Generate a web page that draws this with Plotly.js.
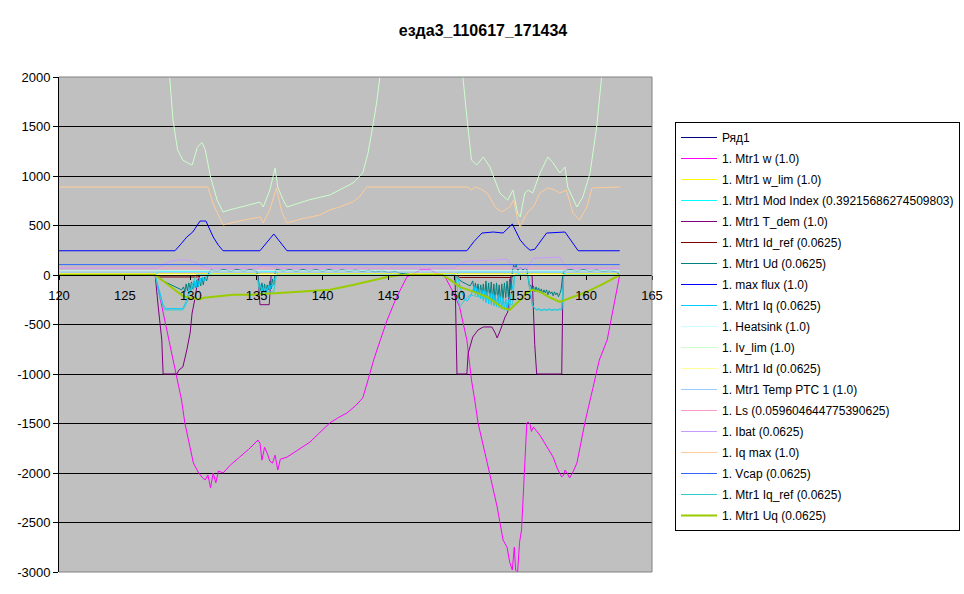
<!DOCTYPE html>
<html><head><meta charset="utf-8">
<script src="https://cdn.plot.ly/plotly-3.0.1.min.js"></script>
<style>html,body{margin:0;padding:0;background:#fff;overflow:hidden;width:964px;height:594px}#chart{width:975px;height:594px}</style>
</head><body><div id="chart"></div><script>
const chartTitle = 'езда3_110617_171434';
const xTicks = [120, 125, 130, 135, 140, 145, 150, 155, 160, 165];
const yTicks = [-3000, -2500, -2000, -1500, -1000, -500, 0, 500, 1000, 1500, 2000];

// Ряд1
const t_r1 = [120, 162.55];
const y_r1 = [0, 0];
// 1. Mtr1 w (1.0)
const t_w = [120, 127.3, 127.8, 128.3, 128.7, 129.0, 129.3, 129.55, 129.9, 130.2,
  130.6, 130.9, 131.1, 131.3, 131.5, 131.7, 131.9, 132.1, 132.45, 133.0,
  133.7, 134.4, 135.1, 135.25, 135.4, 135.6, 135.8, 136.0, 136.2, 136.4,
  136.6, 136.8, 137.3, 138.2, 139.05, 139.8, 140.55, 141.2, 141.85, 142.5,
  143.05, 143.45, 143.9, 144.4, 144.9, 145.6, 146.4, 147.0, 147.4, 148.2,
  148.6, 149.1, 149.3, 149.9, 150.4, 150.95, 151.3, 151.55, 151.8, 152.5,
  153.25, 153.7, 154.0, 154.2, 154.4, 154.55, 154.65, 154.8, 154.95, 155.1,
  155.3, 155.5, 155.6, 155.75, 155.85, 156.0, 156.5, 157.0, 157.5, 157.8,
  158.15, 158.3, 158.4, 158.55, 158.75, 159.0, 159.3, 159.6, 159.9, 160.5,
  161.0, 161.6, 162.1, 162.55];
const y_w = [0, 0, -315, -630, -880, -1070, -1263, -1495, -1720, -1900,
  -2000, -2050, -2070, -2020, -2150, -2000, -2100, -1980, -2000, -1920,
  -1840, -1760, -1667, -1700, -1870, -1740, -1800, -1880, -1900, -1820,
  -1970, -1860, -1840, -1760, -1687, -1590, -1495, -1440, -1394, -1320,
  -1242, -1060, -850, -650, -455, -230, -20, 20, 50, 50,
  20, 0, -20, -170, -323, -656, -1060, -1263, -1495, -1900,
  -2343, -2677, -2750, -2900, -2980, -2750, -2980, -3000, -2700, -2575,
  -2000, -1495, -1485, -1510, -1580, -1535, -1620, -1737, -1840, -1950,
  -2040, -2020, -1970, -2000, -2050, -1990, -1900, -1700, -1495, -1150,
  -860, -656, -300, 0];
// 1. Mtr1 w_lim (1.0)
const t_wlim = [120, 162.55];
const y_wlim = [12, 12];
// 1. Mtr1 Mod Index
const t_mod = [120, 127.3, 127.6, 131.3, 131.6, 135.1, 135.3, 136.4, 136.7, 150.1, 150.4, 154.7, 155.0, 155.4, 155.7, 158.2, 158.5, 162.55];
const y_mod = [0, 0, 35, 35, 0, 0, 35, 35, 0, 0, 30, 30, 0, 0, 30, 30, 0, 0];
// 1. Mtr1 T_dem (1.0)
const t_tdem = [120, 127.3, 127.5, 127.8, 127.9, 128.95, 129.1, 129.4, 129.7, 129.95,
  130.1, 130.3, 130.5, 130.7, 135.1, 135.25, 135.95, 136.1, 150.05, 150.2,
  150.95, 151.05, 151.4, 151.8, 152.2, 152.85, 153.1, 153.25, 153.5, 153.85,
  154.05, 154.3, 155.9, 156.1, 156.25, 158.15, 158.25, 162.55];
const y_tdem = [0, 0, -283, -657, -1000, -1000, -960, -929, -757, -586,
  -384, -252, -80, 0, 0, -300, -300, 0, 0, -1000,
  -1000, -790, -626, -555, -525, -525, -586, -636, -555, -424,
  -374, 0, 0, -700, -1000, -1000, 0, 0];
// 1. Mtr1 Id_ref (0.0625)
const t_idref = [120, 127.3, 127.6, 130.5, 130.8, 150.1, 150.4, 154.3, 154.6, 162.55];
const y_idref = [0, 0, -20, -20, 0, 0, -25, -25, 0, 0];
// 1. Mtr1 Ud (0.0625)
const t_ud = [120, 127.3, 127.6, 127.9, 128.2, 128.5, 128.8, 129.1, 129.3, 129.45,
  129.55, 129.65, 129.75, 129.85, 129.95, 130.05, 130.15, 130.25, 130.35, 130.45,
  130.55, 130.65, 130.75, 130.85, 130.95, 131.05, 131.2, 131.35, 131.5,
  132.0, 132.5, 133.0, 133.5, 134.0, 134.5,
  135.0, 135.1, 135.2, 135.3, 135.4, 135.5, 135.6, 135.7, 135.8, 135.9, 136.0, 136.1, 136.2, 136.3, 136.4, 136.5,
  137.0, 137.5, 138.0, 138.5, 139.0, 139.5, 140.0, 140.5, 141.0, 141.5, 142.0, 142.5, 143.0, 143.5, 144.0, 144.5, 145.0, 145.5, 146.0, 147.0,
  150.0, 150.3, 150.6, 150.9, 151.2,
  151.4, 151.5, 151.6, 151.7, 151.8, 151.9, 152.0, 152.1, 152.2, 152.3, 152.4, 152.5, 152.6, 152.7, 152.8, 152.9, 153.0, 153.1,
  153.2, 153.3, 153.4, 153.5, 153.6, 153.7, 153.8, 153.9, 154.0, 154.1, 154.2, 154.3, 154.4, 154.5, 154.6, 154.7, 154.8,
  155.0, 155.2, 155.4,
  155.5, 155.6, 155.7, 155.8, 155.9, 156.0, 156.1, 156.2, 156.3, 156.4, 156.5, 156.6, 156.7, 156.8, 156.9,
  157.0, 157.1, 157.2, 157.3, 157.4, 157.5, 157.6, 157.7, 157.8, 157.9, 158.0, 158.1, 158.2, 158.3,
  158.8, 159.3, 159.8, 160.3, 160.8, 161.3, 161.8, 162.3, 162.55];
const y_ud = [0, 0, -30, -60, -80, -100, -120, -140, -150, -120,
  -170, -90, -160, -80, -150, -70, -140, -60, -130, -50,
  -120, -40, -110, -30, -100, -20, -60, 20, 50,
  40, 55, 38, 56, 40, 54,
  40, -50, -100, -160, -80, -170, -90, -180, -100, -150, -60, -140, -40, -100, 20, 60,
  40, 55, 38, 56, 40, 54, 38, 55, 40, 52, 36, 50, 34, 48, 30, 42, 25, 35, 15, 0,
  0, -40, -70, -90, -110,
  -60, -160, -80, -180, -90, -200, -100, -210, -90, -220, -60, -230, -80, -240, -70, -250, -90, -260,
  -80, -250, -100, -260, -90, -240, -80, -230, -60, -220, -40, -150, 30, 100, 60, 110, 40,
  80, 50, 70,
  60, -60, -120, -100, -150, -110, -170, -120, -160, -130, -180, -140, -190, -150, -180,
  -150, -200, -160, -190, -170, -210, -170, -200, -180, -220, -190, -150, -30, 40,
  55, 40, 54, 38, 50, 36, 45, 30, 0];
// 1. max flux (1.0)
const t_flux = [120, 128.8, 129.3, 129.7, 130.15, 130.7, 131.15, 131.7, 132.1, 132.45,
  135.25, 136.3, 137.3, 150.95, 151.5, 152.1, 152.95, 153.7, 154.4, 155.0,
  155.4, 155.75, 156.1, 157.0, 158.4, 158.9, 159.4, 162.55];
const y_flux = [245, 245, 320, 384, 434, 545, 545, 384, 300, 245,
  245, 414, 245, 245, 340, 424, 434, 424, 515, 353,
  290, 250, 260, 424, 434, 340, 245, 245];
// 1. Mtr1 Iq (0.0625)
const t_iq = [120, 127.3, 127.6, 127.9, 128.1, 128.6, 129.0, 129.4, 129.6, 129.8,
  129.9, 130.0, 130.1, 130.2, 130.3, 130.4, 130.5, 130.6, 130.7, 130.8,
  130.9, 131.0, 131.2, 131.4, 135.0, 135.1, 135.2, 135.3, 135.4, 135.5,
  135.6, 135.7, 135.8, 135.9, 136.0, 136.1, 136.2, 136.3, 136.5, 150.2,
  150.5, 150.8, 151.0, 151.2, 151.4, 151.5, 151.6, 151.7, 151.8, 151.9,
  152.0, 152.1, 152.2, 152.3, 152.4, 152.5, 152.6, 152.7, 152.8, 152.9,
  153.0, 153.1, 153.2, 153.3, 153.4, 153.5, 153.6, 153.7, 153.8, 153.9,
  154.0, 154.1, 154.2, 154.3, 154.4, 154.5, 154.6, 155.6, 155.9, 156.2,
  156.4, 156.6, 156.8, 157.0, 157.2, 157.4, 157.6, 157.8, 158.0, 158.15,
  158.3, 162.55];
const y_iq = [0, 0, -150, -300, -340, -340, -345, -340, -280, -200,
  -120, -180, -80, -150, -60, -130, -40, -110, -30, -90,
  -20, -60, -10, 0, 0, -60, -120, -100, -160, -120,
  -170, -130, -160, -110, -150, -100, -120, -60, 0, 0,
  -150, -250, -260, -220, -160, -110, -200, -130, -220, -140,
  -240, -150, -260, -160, -280, -170, -290, -180, -300, -190,
  -310, -200, -320, -200, -330, -220, -340, -230, -350, -240,
  -360, -250, -340, -200, -120, -50, 0, 0, -300, -350,
  -340, -360, -345, -355, -340, -360, -345, -355, -340, -350,
  0, 0];
// 1. Heatsink (1.0)
const t_heat = [120, 162.55];
const y_heat = [42, 42];
// 1. Iv_lim (1.0)
const t_ivlim = [120, 128.3, 128.4, 128.65, 129.0, 129.4, 129.8, 130.1, 130.5, 130.85,
  131.1, 131.5, 132.0, 132.45, 133.0, 133.7, 134.5, 135.25, 135.5, 136.0,
  136.4, 136.6, 137.0, 137.3, 138.0, 139.0, 140.55, 141.3, 142.3, 143.05,
  143.45, 143.8, 144.1, 144.35, 144.5, 150.5, 150.65, 150.95, 151.3, 151.7,
  152.2, 152.7, 153.45, 154.05, 154.45, 154.8, 155.0, 155.35, 155.6, 155.95,
  156.5, 157.1, 157.5, 158.0, 158.4, 158.6, 159.3, 159.75, 160.3, 160.8,
  161.2, 161.4, 162.5];
const y_ivlim = [3000, 2300, 2000, 1565, 1263, 1160, 1130, 1110, 1290, 1340,
  1263, 990, 757, 636, 660, 687, 710, 737, 687, 858,
  1080, 889, 760, 687, 720, 760, 808, 858, 929, 1030,
  1232, 1495, 1737, 2000, 2300, 2300, 2000, 1596, 1161, 1111,
  1192, 1091, 828, 757, 858, 626, 586, 828, 858, 828,
  1030, 1192, 1131, 1030, 1091, 889, 687, 788, 1030, 1495,
  2000, 2300, 3000];
// 1. Mtr1 Id (0.0625)
const t_id = [120, 162.55];
const y_id = [5, 5];
// 1. Mtr1 Temp PTC 1 (1.0)
const t_ptc = [120, 162.55];
const y_ptc = [28, 28];
// 1. Ls
const t_ls = [120, 162.55];
const y_ls = [70, 70];
// 1. Ibat (0.0625)
const t_ibat = [120, 127.5, 128.0, 128.5, 129.2, 129.8, 130.5, 131.0, 131.5, 135.0,
  135.5, 136.2, 136.8, 150.0, 150.5, 151.0, 153.0, 154.0, 154.5, 155.5,
  156.0, 157.0, 158.0, 158.3, 158.6, 162.55];
const y_ibat = [70, 70, 110, 140, 155, 150, 120, 80, 70, 70,
  95, 90, 70, 70, 120, 140, 150, 160, 70, 70,
  170, 175, 180, 110, 70, 70];
// 1. Iq max (1.0)
const t_iqmax = [120, 131.3, 131.7, 132.45, 133.5, 134.5, 135.25, 135.5, 136.0, 136.5,
  136.9, 137.3, 138.5, 139.8, 140.55, 141.3, 142.3, 142.8, 143.35, 151.0,
  151.3, 151.55, 152.0, 152.5, 153.1, 153.6, 154.2, 154.5, 154.8, 155.0,
  155.35, 155.6, 156.0, 156.5, 157.1, 157.6, 158.0, 158.5, 159.0, 159.5,
  160.05, 160.45, 162.6];
const y_iqmax = [889, 889, 720, 505, 540, 566, 586, 525, 660, 879,
  640, 525, 570, 606, 657, 687, 740, 788, 889, 889,
  860, 889, 870, 828, 687, 636, 687, 757, 560, 485,
  586, 640, 687, 828, 879, 860, 828, 858, 626, 555,
  687, 879, 889];
// 1. Vcap (0.0625)
const t_vcap = [120, 162.55];
const y_vcap = [105, 105];
// 1. Mtr1 Iq_ref (0.0625)
const t_iqref = [120, 127.3, 127.6, 128.0, 129.4, 129.7, 130.0, 130.4, 135.0, 135.2,
  135.4, 136.3, 136.5, 150.1, 150.4, 150.8, 151.2, 154.4, 154.6, 155.6,
  155.9, 156.2, 158.15, 158.3, 162.55];
const y_iqref = [0, 0, -200, -353, -353, -283, -150, 0, 0, -150,
  -170, -170, 0, 0, -323, -250, -200, -300, 0, 0,
  -300, -353, -353, 0, 0];
// 1. Mtr1 Uq (0.0625)
const t_uq = [120, 127.3, 128.0, 128.7, 129.4, 130.0, 130.7, 131.0, 132.0, 133.2,
  134.5, 135.5, 136.4, 137.0, 138.5, 140.55, 142.3, 143.5, 144.9, 145.9,
  149.1, 149.8, 150.4, 151.5, 152.5, 153.7, 154.2, 154.6, 155.0, 155.5,
  155.9, 156.5, 157.3, 158.0, 158.4, 159.0, 160.05, 161.3, 162.55];
const y_uq = [0, 0, -70, -140, -212, -235, -245, -230, -215, -200,
  -200, -195, -185, -180, -165, -150, -100, -60, -20, 0,
  0, -60, -120, -170, -222, -333, -353, -300, -252, -180,
  -150, -170, -230, -272, -250, -222, -170, -90, 0];

const seriesNames = ['Ряд1', '1. Mtr1 w (1.0)', '1. Mtr1 w_lim (1.0)', '1. Mtr1 Mod Index (0.39215686274509803)',
  '1. Mtr1 T_dem (1.0)', '1. Mtr1 Id_ref (0.0625)', '1. Mtr1 Ud (0.0625)', '1. max flux (1.0)',
  '1. Mtr1 Iq (0.0625)', '1. Heatsink (1.0)', '1. Iv_lim (1.0)', '1. Mtr1 Id (0.0625)',
  '1. Mtr1 Temp PTC 1 (1.0)', '1. Ls (0.059604644775390625)', '1. Ibat (0.0625)', '1. Iq max (1.0)',
  '1. Vcap (0.0625)', '1. Mtr1 Iq_ref (0.0625)', '1. Mtr1 Uq (0.0625)'];
const seriesX = [t_r1, t_w, t_wlim, t_mod, t_tdem, t_idref, t_ud, t_flux, t_iq, t_heat, t_ivlim, t_id, t_ptc, t_ls, t_ibat, t_iqmax, t_vcap, t_iqref, t_uq];
const seriesY = [y_r1, y_w, y_wlim, y_mod, y_tdem, y_idref, y_ud, y_flux, y_iq, y_heat, y_ivlim, y_id, y_ptc, y_ls, y_ibat, y_iqmax, y_vcap, y_iqref, y_uq];
const seriesColors = ['#000080', '#FF00FF', '#FFFF00', '#00FFFF', '#800080', '#800000', '#008080', '#0000FF',
  '#00CCFF', '#CCFFFF', '#CCFFCC', '#FFFF99', '#99CCFF', '#FF99CC', '#CC99FF', '#FFCC99', '#3366FF', '#33CCCC', '#99CC00'];
const seriesWidths = [1, 1, 1, 1, 1, 1, 1, 1, 1, 1, 1, 1, 1, 1, 1, 1, 1, 1, 2];

const traces = seriesNames.map((n, i) => ({
  type: 'scatter', mode: 'lines', name: n, x: seriesX[i], y: seriesY[i],
  line: {color: seriesColors[i], width: seriesWidths[i]},
  legendgroup: 'g' + i, hoverinfo: 'skip'
}));

const FONT = 'Arial, "Liberation Sans", sans-serif';
const W = 975, H = 594;
// pixel helpers for the plot frame (plot area: x 59..652, y 77..572)
const PX = v => (v - 59) / 593;
const PY = v => (572 - v) / 495;
const layout = {
  width: W, height: H,
  margin: {l: 59, r: W - 652, t: 77, b: 22, pad: 0},
  paper_bgcolor: '#ffffff', plot_bgcolor: '#c0c0c0',
  font: {family: FONT, size: 13, color: '#000'},
  title: {text: chartTitle, font: {family: FONT, size: 16, color: '#000', weight: 'bold'},
    xref: 'container', x: 483 / W, xanchor: 'center', yref: 'container', y: 1 - 30 / H, yanchor: 'middle'},
  xaxis: {range: [120, 165], tickvals: xTicks, ticktext: xTicks.map(String), anchor: 'free', position: 0.6,
    showline: true, linecolor: '#000', linewidth: 1, ticks: 'outside', ticklen: 4, tickcolor: '#000',
    showgrid: false, zeroline: false, ticklabelstandoff: 4, fixedrange: true},
  yaxis: {range: [-3000, 2000], tickvals: yTicks, ticktext: yTicks.map(String), showline: true, linecolor: '#000', linewidth: 1,
    ticks: 'outside', ticklen: 5, tickcolor: '#000', showgrid: true, gridcolor: '#000', gridwidth: 1,
    zeroline: false, fixedrange: true},
  showlegend: true,
  legend: {x: PX(675), xanchor: 'left', y: PY(122), yanchor: 'top',
    bordercolor: '#000', borderwidth: 1, bgcolor: '#fff', font: {family: FONT, size: 12, color: '#000'},
    traceorder: 'grouped', tracegroupgap: 2, itemwidth: 36},
  shapes: [
    {type: 'line', xref: 'paper', yref: 'paper', x0: 0, x1: 1, y0: 1, y1: 1, line: {color: '#808080', width: 1}, layer: 'above'},
    {type: 'line', xref: 'paper', yref: 'paper', x0: 1, x1: 1, y0: 0, y1: 1, line: {color: '#808080', width: 1}, layer: 'above'},
    {type: 'line', xref: 'paper', yref: 'paper', x0: 0, x1: 1, y0: 0, y1: 0, line: {color: '#808080', width: 1}, layer: 'above'}
  ]
};
Plotly.newPlot('chart', traces, layout, {staticPlot: true, displayModeBar: false});
</script></body></html>
